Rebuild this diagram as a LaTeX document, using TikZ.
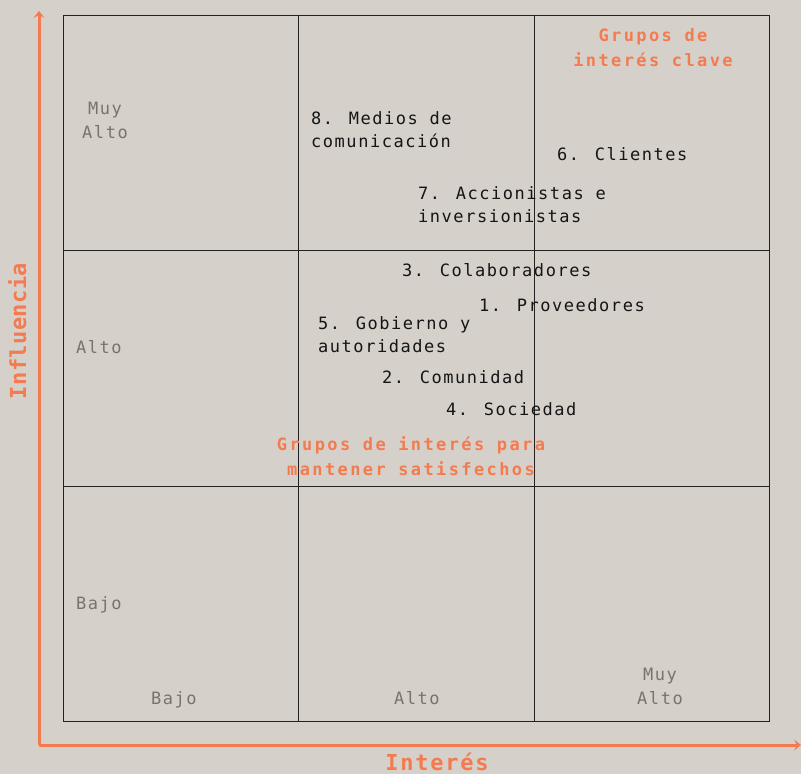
\documentclass[tikz,border=0pt]{standalone}
\usepackage{fontspec}
\usetikzlibrary{arrows.meta}
\newfontfamily\monoreg[LetterSpace=9]{DejaVu Sans Mono}
\newfontfamily\monobold[LetterSpace=14]{DejaVu Sans Mono Bold}
\newfontfamily\monotitle[LetterSpace=8]{DejaVu Sans Mono Bold}
\newfontfamily\monotitletight[LetterSpace=2]{DejaVu Sans Mono Bold}
\definecolor{bgc}{HTML}{D5D0CA}
\definecolor{orng}{HTML}{F47B50}
\definecolor{grayt}{HTML}{7D726B}
\definecolor{inkc}{HTML}{151515}
\definecolor{gridc}{HTML}{222222}
\tikzset{
  item/.style={anchor=base west, inner sep=0, align=left, text=inkc,
    font=\monoreg\fontsize{17}{22.5}\selectfont},
  lvl/.style={inner sep=0, align=center, text=grayt,
    font=\monoreg\fontsize{17}{23.5}\selectfont},
  grp/.style={anchor=base, inner sep=0, align=center, text=orng,
    font=\monobold\fontsize{17}{24.5}\selectfont},
  axtitle/.style={anchor=base, inner sep=0, text=orng,
    font=\monotitle\fontsize{22}{24}\selectfont},
  axis/.style={draw=orng, line width=3pt, -{Stealth[length=7pt,width=11pt,inset=3pt]}},
  gridl/.style={draw=gridc, line width=0.9pt}
}
\begin{document}
\begin{tikzpicture}[x=1pt,y=-1pt]
\fill[bgc] (0,0) rectangle (801,774);
\useasboundingbox (0,0) rectangle (801,774);
% grid
\draw[gridl] (63,15) rectangle (769,721);
\draw[gridl] (298,15) -- (298,721);
\draw[gridl] (534,15) -- (534,721);
\draw[gridl] (63,250) -- (769,250);
\draw[gridl] (63,486) -- (769,486);
% axes
\coordinate (o) at (39,745);
\coordinate (ytop) at (39,11);
\coordinate (xend) at (801,745);
\draw[axis] (o) -- (ytop);
\draw[axis] (o) -- (xend);
\node[axtitle] (xt) at (437,770) {Interés};
\node[axtitle, rotate=90, font=\monotitletight\fontsize{22}{24}\selectfont] (yt) at (26,331) {Influencia};
% level labels
\node[lvl, anchor=base] (l1) at (105,138) {Muy\\Alto};
\node[lvl, anchor=base west] (l2) at (76,353) {Alto};
\node[lvl, anchor=base west] (l3) at (76,609) {Bajo};
\node[lvl, anchor=base west] (l4) at (151,704) {Bajo};
\node[lvl, anchor=base west] (l5) at (394,704) {Alto};
\node[lvl, anchor=base] (l6) at (660,704) {Muy\\Alto};
% items
\node[item] (i8) at (311,147) {8. Medios de\\comunicación};
\node[item] (i6) at (557,160) {6. Clientes};
\node[item] (i7) at (418,222) {7. Accionistas e\\inversionistas};
\node[item] (i3) at (402,276) {3. Colaboradores};
\node[item] (i1) at (479,311) {1. Proveedores};
\node[item] (i5) at (318,352) {5. Gobierno y\\autoridades};
\node[item] (i2) at (382,383) {2. Comunidad};
\node[item] (i4) at (446,415) {4. Sociedad};
% groups
\node[grp] (g1) at (653,66) {Grupos de\\interés clave};
\node[grp] (g2) at (411,475) {Grupos de interés para\\mantener satisfechos};
\end{tikzpicture}
\end{document}
